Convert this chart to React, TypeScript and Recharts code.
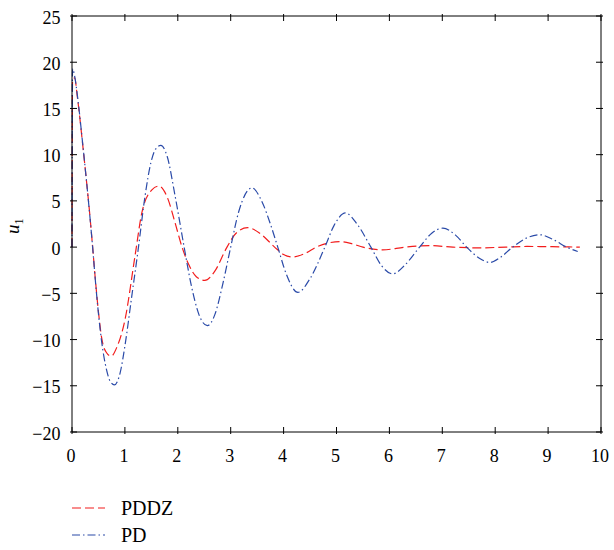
import React from 'react';
import { LineChart, Line, XAxis, YAxis } from 'recharts';

// ---- data ----
const X_TICKS = [0, 1, 2, 3, 4, 5, 6, 7, 8, 9, 10];
const Y_TICKS = [-20, -15, -10, -5, 0, 5, 10, 15, 20, 25];

const PDDZ_T = [0, 0.01, 0.05, 0.1, 0.2, 0.28, 0.34, 0.39, 0.44, 0.5, 0.56, 0.65, 0.74, 0.85, 1.0, 1.19, 1.32, 1.51, 1.64, 1.8, 1.95, 2.08, 2.2, 2.35, 2.51, 2.7, 2.93, 3.1, 3.32, 3.55, 3.83, 4.0, 4.17, 4.4, 4.62, 4.85, 5.06, 5.3, 5.5, 5.87, 6.3, 6.76, 7.2, 7.7, 8.2, 8.6, 9.0, 9.6];
const PDDZ_V = [0, 18.0, 18.3, 16.3, 11.2, 6.8, 3.3, 0, -3.4, -7.0, -9.8, -11.4, -11.8, -10.8, -7.9, -1.0, 3.7, 6.2, 6.6, 5.4, 2.6, 0, -1.8, -3.2, -3.6, -2.6, 0, 1.5, 2.1, 1.5, 0, -0.8, -1.08, -0.7, 0, 0.45, 0.6, 0.35, 0, -0.3, 0, 0.17, 0, -0.08, 0, 0.07, 0.05, 0];

const PD_T = [0, 0.01, 0.05, 0.1, 0.2, 0.28, 0.34, 0.39, 0.44, 0.5, 0.56, 0.65, 0.72, 0.8, 0.91, 1.0, 1.13, 1.25, 1.38, 1.49, 1.58, 1.68, 1.8, 1.95, 2.12, 2.25, 2.4, 2.56, 2.7, 2.85, 3.0, 3.15, 3.4, 3.6, 3.75, 3.89, 4.05, 4.27, 4.5, 4.78, 4.95, 5.17, 5.4, 5.65, 5.85, 6.06, 6.3, 6.57, 6.8, 7.01, 7.25, 7.46, 7.7, 7.9, 8.1, 8.33, 8.6, 8.85, 9.1, 9.35, 9.56];
const PD_V = [0, 19.3, 18.5, 16.5, 11.3, 6.8, 3.2, 0, -3.5, -7.2, -10.2, -13.2, -14.5, -14.9, -13.6, -10.7, -5.3, -0.3, 5.5, 9.1, 10.6, 11.0, 9.8, 5.5, 0, -4.0, -7.3, -8.5, -7.3, -4.0, 0, 3.8, 6.4, 4.8, 2.5, 0, -2.9, -4.9, -3.4, 0, 2.3, 3.7, 2.4, 0, -2.0, -2.9, -1.9, 0, 1.5, 2.05, 1.3, 0, -1.2, -1.66, -1.1, 0, 1.0, 1.33, 0.8, 0, -0.47];

const SERIES_NAMES = ['PDDZ', 'PD'];

const pddzData = PDDZ_T.map((t, i) => ({ t, v: PDDZ_V[i] }));
const pdData = PD_T.map((t, i) => ({ t, v: PD_V[i] }));

const RED = '#f21d1d';
const BLUE = '#2a4aa8';
const RED_DASH = '9 4';
const BLUE_DASH = '8 3 1.5 3';
const FONT = '"Liberation Serif", serif';
const TICK_LEN = 7;
const TICK_FONT = 18;

const fmt = (v: number) => String(v).replace('-', '\u2212');

const BottomTick = (props: any) => {
  const { x, y, payload } = props;
  return (
    <g>
      <line x1={x} x2={x} y1={y} y2={y - TICK_LEN} stroke="#000" strokeWidth={1} />
      <text x={x - 1} y={y + 28} textAnchor="middle" fontSize={TICK_FONT} fontFamily={FONT} fill="#000">
        {fmt(payload.value)}
      </text>
    </g>
  );
};

const TopTick = (props: any) => {
  const { x, y } = props;
  return <line x1={x} x2={x} y1={y} y2={y + TICK_LEN} stroke="#000" strokeWidth={1} />;
};

const LeftTick = (props: any) => {
  const { x, y, payload } = props;
  return (
    <g>
      <line x1={x} x2={x + TICK_LEN} y1={y} y2={y} stroke="#000" strokeWidth={1} />
      <text x={x - 9.5} y={y + 7.5} textAnchor="end" fontSize={TICK_FONT} fontFamily={FONT} fill="#000">
        {fmt(payload.value)}
      </text>
    </g>
  );
};

const RightTick = (props: any) => {
  const { x, y } = props;
  return <line x1={x} x2={x - TICK_LEN} y1={y} y2={y} stroke="#000" strokeWidth={1} />;
};

const YLabel = () => (
  <text transform="translate(19,234) rotate(-90)" fontSize={19} fontFamily={FONT} fill="#000">
    <tspan fontStyle="italic">u</tspan>
    <tspan fontSize={12} dy={4}>1</tspan>
  </text>
);

const LegendOverlay = () => (
  <svg width={220} height={60} style={{ position: 'absolute', left: 0, top: 495, display: 'block' }}>
    <line x1={72} x2={105} y1={13} y2={13} stroke={RED} strokeWidth={1.2} strokeDasharray={RED_DASH} />
    <text x={121} y={20} fontSize={20} fontFamily={FONT} fill="#000">{SERIES_NAMES[0]}</text>
    <line x1={72} x2={105} y1={40} y2={40} stroke={BLUE} strokeWidth={1.2} strokeDasharray={BLUE_DASH} />
    <text x={121} y={47} fontSize={20} fontFamily={FONT} fill="#000">{SERIES_NAMES[1]}</text>
  </svg>
);

export default function App() {
  return (
    <div style={{ position: 'absolute', left: 0, top: 0, width: 614, height: 550 }}>
      <LineChart width={614} height={550} margin={{ top: 0, right: 0, bottom: 88, left: 0 }}>
        <XAxis
          xAxisId="b"
          type="number"
          dataKey="t"
          domain={[0, 10]}
          ticks={X_TICKS}
          height={30}
          tickSize={0}
          tickLine={false}
          stroke="#000"
          tick={<BottomTick />}
        />
        <XAxis
          xAxisId="top"
          orientation="top"
          type="number"
          dataKey="t"
          domain={[0, 10]}
          ticks={X_TICKS}
          height={16}
          tickSize={0}
          tickLine={false}
          stroke="#000"
          tick={<TopTick />}
        />
        <YAxis
          yAxisId="l"
          type="number"
          domain={[-20, 25]}
          ticks={Y_TICKS}
          width={72}
          tickSize={0}
          tickLine={false}
          stroke="#000"
          tick={<LeftTick />}
          label={{ content: () => <YLabel /> }}
        />
        <YAxis
          yAxisId="r"
          orientation="right"
          type="number"
          domain={[-20, 25]}
          ticks={Y_TICKS}
          width={13}
          tickSize={0}
          tickLine={false}
          stroke="#000"
          tick={<RightTick />}
        />
        <Line
          xAxisId="top"
          yAxisId="r"
          data={pdData}
          dataKey="v"
          legendType="none"
          stroke="transparent"
          strokeWidth={0}
          dot={false}
          activeDot={false}
          isAnimationActive={false}
        />
        <Line
          xAxisId="b"
          yAxisId="l"
          data={pddzData}
          dataKey="v"
          name={SERIES_NAMES[0]}
          type="monotone"
          stroke={RED}
          strokeWidth={1.2}
          strokeDasharray={RED_DASH}
          dot={false}
          isAnimationActive={false}
        />
        <Line
          xAxisId="b"
          yAxisId="l"
          data={pdData}
          dataKey="v"
          name={SERIES_NAMES[1]}
          type="monotone"
          stroke={BLUE}
          strokeWidth={1.2}
          strokeDasharray={BLUE_DASH}
          dot={false}
          isAnimationActive={false}
        />
      </LineChart>
      <LegendOverlay />
    </div>
  );
}
